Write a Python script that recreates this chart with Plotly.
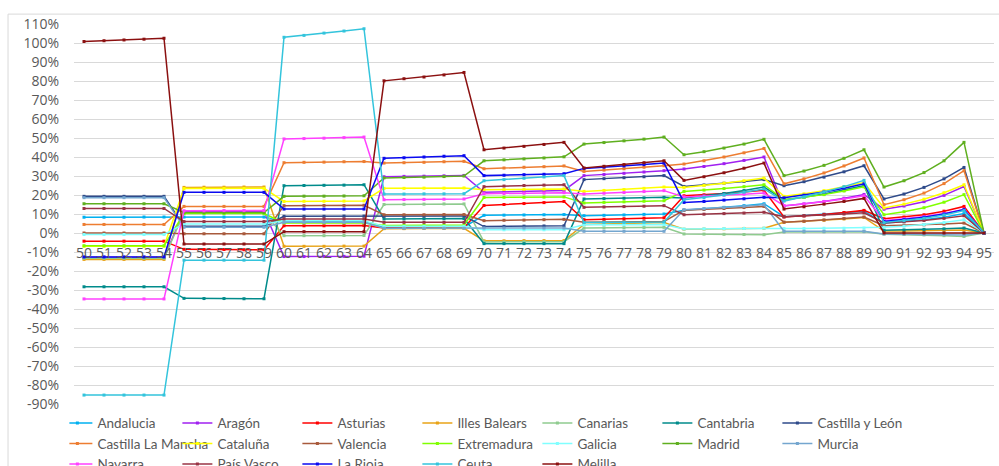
import plotly.graph_objects as go

years = [str(y) for y in range(50, 96)]
y_ticks = list(range(-90, 111, 10))
y_tick_labels = [f"{v}%" for v in y_ticks]

andalucia = [8.3,8.3,8.3,8.4,8.4, 8.4,8.4,8.4,8.4,8.4, 5.8,5.9,5.9,6.0,6.0, 3.0,3.0,3.1,3.1,3.2,
             9.3,9.4,9.5,9.6,9.7, 9.1,9.3,9.5,9.8,10.0, 12.0,12.7,13.5,14.4,15.4, 8.6,9.2,9.9,10.6,11.5,
             5.2,6.0,7.0,8.3,10.2, 0]
aragon = [-12.8,-12.8,-12.8,-12.8,-12.8, 11.3,11.4,11.4,11.5,11.5, -12.4,-12.4,-12.3,-12.3,-12.2,
          29.6,29.8,29.9,30.1,30.3, 21.4,21.6,21.9,22.1,22.4, 30.2,30.8,31.4,32.1,32.8,
          33.7,35.0,36.5,38.2,40.0, 14.2,15.3,16.6,18.3,20.3, 12.5,14.2,16.5,19.8,24.5, 0]
asturias = [-4.3,-4.3,-4.3,-4.3,-4.3, -8.6,-8.7,-8.7,-8.8,-8.8, 3.8,3.8,3.8,3.9,3.9, 2.6,2.6,2.7,2.7,2.8,
            14.5,15.0,15.5,16.0,16.6, 7.0,7.2,7.5,7.8,8.0, 19.6,20.1,20.8,21.6,22.5, 8.4,9.0,9.8,10.8,11.9,
            7.5,8.4,9.6,11.5,14.0, 0]
baleares = [-13.9,-13.9,-13.9,-13.9,-13.9, 24.0,24.1,24.1,24.2,24.2, -7.0,-7.0,-7.0,-6.9,-6.9,
            2.3,2.3,2.4,2.4,2.5, -4.1,-4.1,-4.0,-4.0,-4.0, 4.5,4.7,5.0,5.2,5.5, 2.0,2.1,2.2,2.4,2.5,
            5.6,6.1,6.7,7.4,8.2, 1.0,1.1,1.2,1.4,1.6, 0]
canarias = [-13.3,-13.3,-13.3,-13.3,-13.3, 10.5,10.5,10.5,10.6,10.6, -1.4,-1.4,-1.4,-1.3,-1.3,
            15.0,15.1,15.2,15.3,15.3, -4.7,-4.7,-4.6,-4.6,-4.6, 2.6,2.7,2.8,2.9,3.0,
            -0.5,-0.6,-0.7,-0.8,-0.9, 0.5,0.5,0.6,0.6,0.7, -0.6,-0.8,-1.0,-1.4,-1.8, 0]
cantabria = [-28.3,-28.3,-28.3,-28.3,-28.3, -34.4,-34.5,-34.5,-34.6,-34.6, 24.9,25.0,25.1,25.2,25.4,
             7.4,7.4,7.5,7.5,7.6, -5.6,-5.6,-5.6,-5.6,-5.6, 17.9,18.1,18.3,18.5,18.8,
             18.4,19.5,20.8,22.4,24.2, 17.5,18.8,20.5,22.5,24.9, 1.4,1.6,1.9,2.2,2.6, 0]
castilla_leon = [19.3,19.3,19.3,19.3,19.3, 3.6,3.6,3.6,3.6,3.6, 8.8,8.8,8.8,8.9,8.9, 8.8,8.8,8.9,8.9,9.0,
                 3.4,3.5,3.6,3.7,3.8, 28.1,28.6,29.1,29.6,30.2, 24.5,25.3,26.2,27.1,28.1,
                 24.9,27.0,29.4,32.2,35.4, 17.9,20.5,24.0,28.5,34.5, 0]
castilla_mancha = [4.5,4.5,4.5,4.5,4.5, 14.0,14.0,14.0,14.0,14.0, 37.0,37.2,37.3,37.5,37.6,
                   36.8,37.0,37.2,37.5,37.7, 33.8,34.2,34.6,34.9,35.3, 32.4,33.1,33.8,34.6,35.4,
                   36.3,38.0,40.0,42.2,44.5, 25.9,28.5,31.6,35.3,39.5, 14.9,17.5,21.0,26.0,32.8, 0]
cataluna = [-7.0,-7.0,-7.0,-7.0,-7.0, 23.4,23.4,23.5,23.5,23.5, 16.6,16.7,16.7,16.8,16.9,
            23.5,23.5,23.6,23.6,23.7, 22.8,22.9,23.0,23.1,23.2, 21.9,22.4,22.9,23.5,24.2,
            24.0,25.0,26.2,27.5,28.9, 19.3,20.6,22.3,24.3,26.6, 13.2,15.2,17.8,21.2,25.4, 0]
valencia = [0.0,0.0,0.0,0.0,0.0, -0.4,-0.4,-0.4,-0.4,-0.4, 14.4,14.4,14.5,14.5,14.6, 9.6,9.6,9.6,9.7,9.7,
            6.5,6.7,6.8,7.0,7.2, 5.7,5.8,5.9,6.0,6.1, 12.0,12.4,12.9,13.4,14.0, 5.7,6.2,6.9,7.6,8.4,
            3.8,4.0,4.3,4.7,5.2, 0]
extremadura = [-6.7,-6.7,-6.7,-6.7,-6.7, 10.2,10.2,10.2,10.2,10.2, 5.3,5.3,5.3,5.3,5.3, 4.0,4.0,4.1,4.1,4.2,
               18.7,18.8,18.8,18.9,19.0, 15.8,16.1,16.4,16.7,17.0, 21.9,22.6,23.4,24.4,25.4,
               17.5,18.7,20.2,22.1,24.3, 9.6,11.2,13.3,16.2,20.2, 0]
galicia = [-0.8,-0.8,-0.8,-0.8,-0.8, 4.8,4.8,4.8,4.8,4.8, 6.4,6.4,6.4,6.4,6.4, 3.5,3.5,3.5,3.5,3.5,
           1.7,1.7,1.7,1.7,1.7, 4.3,4.3,4.4,4.4,4.5, 2.1,2.2,2.3,2.4,2.6, 2.4,2.4,2.5,2.5,2.6,
           3.0,3.6,4.4,5.5,7.0, 0]
madrid = [15.4,15.4,15.4,15.4,15.4, 10.8,10.8,10.8,10.8,10.8, 19.3,19.4,19.4,19.5,19.6,
          29.0,29.2,29.4,29.7,30.0, 38.0,38.5,39.0,39.5,40.1, 46.8,47.6,48.5,49.4,50.5,
          41.2,42.8,44.7,46.8,49.3, 30.2,32.6,35.6,39.3,43.8, 24.2,27.5,31.8,38.0,47.7, 0]
murcia = [18.6,18.6,18.6,18.6,18.6, 3.0,3.0,3.0,3.0,3.0, 5.6,5.6,5.6,5.6,5.6, 2.5,2.5,2.5,2.5,2.5,
          2.6,2.6,2.6,2.6,2.6, 0.9,0.9,0.9,0.9,0.9, 12.3,12.8,13.4,14.1,14.9, 0.9,0.9,0.9,0.9,0.9,
          -0.5,-0.6,-0.7,-0.8,-1.0, 0]
navarra = [-34.7,-34.7,-34.7,-34.7,-34.7, 11.7,11.7,11.8,11.8,11.8, 49.5,49.7,49.9,50.2,50.5,
           17.5,17.6,17.7,17.8,17.9, 20.7,20.8,20.9,21.0,21.2, 20.5,20.9,21.3,21.8,22.3,
           19.0,19.4,19.9,20.4,21.0, 14.4,15.3,16.5,17.9,19.6, 6.6,7.5,8.7,10.3,12.5, 0]
pais_vasco = [12.9,12.9,12.9,12.9,12.9, 6.0,6.0,6.0,6.0,6.0, 7.4,7.4,7.4,7.4,7.4, 5.6,5.6,5.6,5.6,5.6,
              24.4,24.7,25.0,25.2,25.4, 13.5,13.7,13.9,14.1,14.4, 9.6,9.9,10.2,10.5,10.9,
              8.6,9.0,9.5,10.0,10.6, 5.3,5.9,6.6,7.7,9.1, 0]
la_rioja = [-12.6,-12.6,-12.6,-12.6,-12.6, 21.4,21.4,21.4,21.4,21.4, 12.6,12.6,12.6,12.6,12.6,
            39.3,39.6,40.0,40.4,40.7, 30.2,30.4,30.7,30.9,31.2, 34.0,34.6,35.3,36.0,36.8,
            16.1,16.6,17.3,18.0,18.8, 18.5,19.9,21.6,23.6,25.9, 6.0,7.0,8.3,10.0,12.3, 0]
ceuta = [-85.3,-85.3,-85.3,-85.3,-85.3, -14.3,-14.3,-14.3,-14.3,-14.3, 103.0,104.0,105.2,106.3,107.5,
         20.5,20.5,20.6,20.6,20.7, 27.5,28.1,28.8,29.5,30.2, 5.5,5.6,5.6,5.7,5.8,
         17.5,18.6,20.0,21.5,23.2, 16.8,19.0,21.6,24.4,27.7, 5.5,6.5,7.8,9.5,11.8, 0]
melilla = [100.8,101.2,101.6,102.0,102.5, -5.8,-5.8,-5.8,-5.8,-5.8, 0.7,0.7,0.7,0.7,0.7,
           80.1,81.2,82.1,83.2,84.5, 43.8,44.7,45.6,46.6,47.7, 34.2,35.1,36.0,37.0,38.0,
           27.7,29.6,31.7,34.1,36.8, 12.6,13.8,15.2,16.6,18.2, 0,0,0,0,0, 0]

series = [
    ("Andalucia", andalucia, "#00B0F0"),
    ("Aragón", aragon, "#A020F0"),
    ("Asturias", asturias, "#FF0000"),
    ("Illes Balears", baleares, "#E8A317"),
    ("Canarias", canarias, "#8FCB8F"),
    ("Cantabria", cantabria, "#008B8B"),
    ("Castilla y León", castilla_leon, "#2E4A8A"),
    ("Castilla La Mancha", castilla_mancha, "#ED7D31"),
    ("Cataluña", cataluna, "#FFFF00"),
    ("Valencia", valencia, "#A85A3C"),
    ("Extremadura", extremadura, "#80FF00"),
    ("Galicia", galicia, "#80FFFF"),
    ("Madrid", madrid, "#5FAF1F"),
    ("Murcia", murcia, "#74A6CF"),
    ("Navarra", navarra, "#FF40FF"),
    ("País Vasco", pais_vasco, "#993344"),
    ("La Rioja", la_rioja, "#0A0AF0"),
    ("Ceuta", ceuta, "#33C4DC"),
    ("Melilla", melilla, "#8B1010"),
]

fig = go.Figure()
for name, vals, col in series:
    fig.add_trace(go.Scatter(
        x=years, y=vals, name=name, mode="lines+markers",
        line=dict(color=col, width=1.5),
        marker=dict(symbol="square", size=3, color=col),
    ))

FONT = "Open Sans"
GRAY = "#595959"
ymin, ymax = -90, 110

fig.update_layout(
    width=999, height=466,
    margin=dict(l=74, r=5, t=24, b=62, autoexpand=False),
    paper_bgcolor="white", plot_bgcolor="white",
    font=dict(family=FONT, size=14, color=GRAY),
    showlegend=True,
    legend=dict(
        orientation="h", x=0.4515, xanchor="center", y=-0.0095, yanchor="top",
        entrywidth=87, entrywidthmode="pixels", itemwidth=30, indentation=-12,
        font=dict(family="Lato", size=13.5, color=GRAY),
        bgcolor="rgba(0,0,0,0)", bordercolor="rgba(0,0,0,0)", borderwidth=0,
        tracegroupgap=0,
    ),
    xaxis=dict(
        type="category", categoryorder="array", categoryarray=years,
        range=[-0.5, len(years) - 0.5],
        anchor="free", position=(0 - ymin) / (ymax - ymin),
        showgrid=False, showline=False, zeroline=False,
        ticks="", ticklabelstandoff=10,
        tickfont=dict(family=FONT, size=14, color=GRAY),
    ),
    yaxis=dict(
        range=[ymin, ymax], tickvals=y_ticks, ticktext=y_tick_labels,
        showgrid=True, gridcolor="#D9D9D9", gridwidth=1,
        zeroline=False, showline=False, ticks="", ticklabelstandoff=14,
        tickfont=dict(family=FONT, size=14, color=GRAY),
    ),
    shapes=[dict(type="rect", xref="paper", yref="paper",
                 x0=-0.0717, x1=1.02, y0=-0.3, y1=1.026,
                 line=dict(color="#D9D9D9", width=1), fillcolor="rgba(0,0,0,0)", layer="below")],
)

fig.write_html("out.html")
